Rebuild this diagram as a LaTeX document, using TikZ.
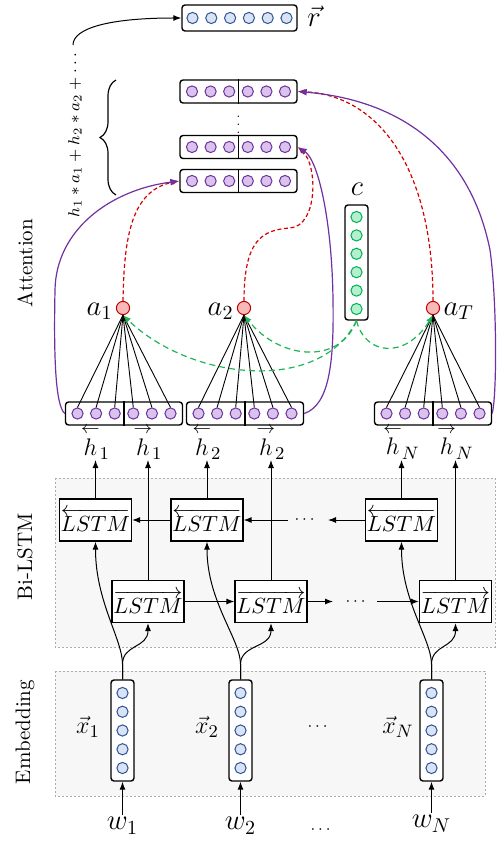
\documentclass[tikz,border=0pt]{standalone}
\usepackage{amsmath}
\usetikzlibrary{arrows.meta,decorations.pathreplacing,calc}
\definecolor{purpB}{HTML}{7030A0}
\definecolor{purpF}{HTML}{D9C3EC}
\definecolor{blueB}{HTML}{2F5597}
\definecolor{blueF}{HTML}{DAE3F3}
\definecolor{grnB}{HTML}{00B050}
\definecolor{grnF}{HTML}{B4F0CF}
\definecolor{redB}{HTML}{C00000}
\definecolor{redF}{HTML}{F8B9B9}
\definecolor{grnL}{HTML}{1FB552}
\definecolor{redL}{HTML}{D40000}
\definecolor{bgF}{HTML}{F7F7F7}
\newcommand{\hleftvec}{\overset{\leftarrow}{h}}
\newcommand{\hrightvec}{\overset{\rightarrow}{h}}
\begin{document}
\begin{tikzpicture}[x=0.5pt,y=0.5pt,
  vbox/.style={draw, line width=0.7pt, rounded corners=1.5pt, fill=white, inner sep=0pt},
  pcir/.style={circle, draw=purpB, fill=purpF, line width=0.5pt, minimum size=5.6pt, inner sep=0pt},
  bcir/.style={circle, draw=blueB, fill=blueF, line width=0.5pt, minimum size=5.6pt, inner sep=0pt},
  gcir/.style={circle, draw=grnB, fill=grnF, line width=0.5pt, minimum size=5.6pt, inner sep=0pt},
  rcir/.style={circle, draw=redB, fill=redF, line width=0.5pt, minimum size=6.6pt, inner sep=0pt},
  lstm/.style={draw, line width=0.6pt, fill=white, minimum width=36pt, minimum height=21pt, inner sep=0pt, font=\fontsize{11}{13}\selectfont},
  bgbox/.style={draw=gray!65, dash pattern=on 1.2pt off 0.8pt, fill=bgF, line width=0.4pt},
  sec/.style={rotate=90, font=\fontsize{10.5}{12}\selectfont},
  lab/.style={font=\fontsize{12.5}{14}\selectfont, inner sep=1pt},
  hlab/.style={font=\fontsize{12.5}{14}\selectfont, inner sep=0.3pt},
  biglab/.style={font=\fontsize{14}{16}\selectfont, inner sep=1pt},
  dotsl/.style={font=\fontsize{8}{9}\selectfont, inner sep=0pt},
  arr/.style={-{Latex[length=4pt,width=3pt]}, line width=0.5pt},
  fan/.style={line width=0.45pt},
  gdash/.style={grnL, line width=0.6pt, dash pattern=on 3pt off 2pt, -{Latex[length=4pt,width=3pt]}},
  rdash/.style={redL, line width=0.6pt, dash pattern=on 2pt off 1.3pt, -{Latex[length=3.5pt,width=2.6pt]}},
  parr/.style={purpB, line width=0.6pt, -{Latex[length=4.5pt,width=3.5pt]}},
]
\useasboundingbox (0,0) rectangle (497,-850);

% backgrounds
\draw[bgbox] (55,-478) rectangle (495,-647);
\draw[bgbox] (55,-671) rectangle (485,-796);

\node[sec] (tAtt) at (25,-263) {Attention};
\node[sec] (tBi) at (25,-557) {Bi-LSTM};
\node[sec] (tEmb) at (25,-732) {Embedding};

% r vector
\node[vbox, minimum width=57.5pt, minimum height=13pt] (rbox) at (239.5,-18) {};
\foreach \i in {1,...,6} \node[bcir] (r-\i) at ({239.5+(\i-3.5)*18.8},-18) {};
\node[biglab] (rlab) at (314,-16) {$\vec{r}$};

% purple h-vectors
\foreach \n/\cx/\cy in {s1/238.5/91.5, s2/238.5/147, s3/238.5/181, h1/124/413.5, h2/245/413.5, hN/433/413.5}{
  \node[vbox, minimum width=58.5pt, minimum height=11.5pt] (\n) at (\cx,-\cy) {};
  \draw[line width=0.6pt] (\n.north) -- (\n.south);
  \foreach \i in {1,...,6} \node[pcir] (\n-\i) at ({\cx+(\i-3.5)*18.6},-\cy) {};
}
\node[font=\fontsize{6}{7}\selectfont, inner sep=0pt] (vd) at (238.5,-119) {$\vdots$};

% context vector c
\node[vbox, minimum width=11.5pt, minimum height=57.5pt] (cbox) at (356.5,-262.5) {};
\foreach \i in {1,...,6} \node[gcir] (c-\i) at (356.5,{-217-(\i-1)*18.4}) {};
\node[font=\fontsize{15}{17}\selectfont, inner sep=1pt] (clab) at (357,-189) {$c$};

% attention weights
\node[rcir] (a1) at (123,-308) {};
\node[rcir] (a2) at (244,-308) {};
\node[rcir] (aT) at (433,-308) {};
\node[biglab, anchor=base east] (a1l) at ($(a1.west)+(-1,-7)$) {$a_1$};
\node[biglab, anchor=base east] (a2l) at ($(a2.west)+(-1,-7)$) {$a_2$};
\node[biglab, anchor=base west] (aTl) at ($(aT.east)+(1,-7)$) {$a_T$};

\foreach \n/\a in {h1/a1,h2/a2,hN/aT}
  \foreach \i in {1,...,6} \draw[fan] (\n-\i.north) -- (\a.south);

% green dashed
\draw[gdash] (cbox.south) .. controls (320,-395) and (190,-380) .. (a1.south);
\draw[gdash] (cbox.south) .. controls (340,-365) and (280,-360) .. (a2.south);
\draw[gdash] (cbox.south) .. controls (365,-355) and (405,-360) .. (aT.south);

% red dashed
\draw[rdash] (a1.north) .. controls (124,-235) and (132,-190) .. (s3.west);
\draw[rdash] (a2.north) .. controls (244,-240) and (262,-230) .. (290,-228) .. controls (318,-226) and (318,-165) .. (s2.east);
\draw[rdash] (aT.north) .. controls (433,-170) and (380,-95) .. (s1.east);

% purple solid
\draw[parr] (h1.west) .. controls (54,-405) and (54,-340) .. (55,-290) .. controls (56,-230) and (110,-190) .. (s3.west);
\draw[parr] (h2.east) .. controls (330,-405) and (334,-360) .. (333,-300) .. controls (332,-220) and (318,-160) .. (s2.east);
\draw[parr] (hN.east) .. controls (497,-395) and (497,-300) .. (490,-250) .. controls (470,-150) and (400,-100) .. (s1.east);

% formula and brace
\node[rotate=90, font=\fontsize{8.5}{10}\selectfont, inner sep=0pt] (form) at (75,-134) {$h_1*a_1+h_2*a_2+\cdots$};
\coordinate (fst) at (73,-45);
\draw[arr] (fst) .. controls (73,-28) and (110,-18) .. (rbox.west);
\draw[decorate, decoration={brace, amplitude=8pt}, line width=0.6pt] (116,-195) -- (116,-80);

% Bi-LSTM
\node[lstm] (bl1) at (95.5,-520) {$\overleftarrow{LSTM}$};
\node[lstm] (bl2) at (207,-520) {$\overleftarrow{LSTM}$};
\node[lstm] (bl3) at (401.5,-520) {$\overleftarrow{LSTM}$};
\node[lstm] (fl1) at (148,-601.5) {$\overrightarrow{LSTM}$};
\node[lstm] (fl2) at (271,-601.5) {$\overrightarrow{LSTM}$};
\node[lstm] (fl3) at (455.5,-601.5) {$\overrightarrow{LSTM}$};

\draw[arr] (bl2.west) -- (bl1.east);
\coordinate (bd1) at (288,-520);
\draw[arr] (bd1) -- (bl2.east);
\node[dotsl] (bdots) at (306,-520) {$\cdots$};
\coordinate (bd2) at (328,-520);
\draw[arr] (bl3.west) -- (bd2);

\draw[arr] (fl1.east) -- (fl2.west);
\coordinate (fd1) at (333,-601.5);
\draw[arr] (fl2.east) -- (fd1);
\node[dotsl] (fdots) at (357,-601.5) {$\cdots$};
\coordinate (fd2) at (377,-601.5);
\draw[arr] (fd2) -- (fl3.west);

% h labels
\node[hlab, anchor=south] (hl1) at (95.5,-460) {$\hleftvec_1$};
\node[hlab, anchor=south] (hr1) at (148,-460) {$\hrightvec_1$};
\node[hlab, anchor=south] (hl2) at (207,-460) {$\hleftvec_2$};
\node[hlab, anchor=south] (hr2) at (271,-460) {$\hrightvec_2$};
\node[hlab, anchor=south] (hlN) at (401.5,-460) {$\hleftvec_N$};
\node[hlab, anchor=south] (hrN) at (455.5,-460) {$\hrightvec_N$};
\draw[arr] (bl1.north) -- (hl1.south);
\draw[arr] (fl1.north) -- (hr1.south);
\draw[arr] (bl2.north) -- (hl2.south);
\draw[arr] (fl2.north) -- (hr2.south);
\draw[arr] (bl3.north) -- (hlN.south);
\draw[arr] (fl3.north) -- (hrN.south);

% Embedding
\foreach \n/\cx in {x1/122.5, x2/240.5, xN/431.5}{
  \node[vbox, minimum width=11.5pt, minimum height=50.5pt] (\n) at (\cx,-730.5) {};
  \foreach \i in {1,...,5} \node[bcir] (\n-\i) at (\cx,{-693-(\i-1)*18.75}) {};
}
\node[lab] (x1l) at (88,-727) {$\vec{x}_1$};
\node[lab] (x2l) at (207,-727) {$\vec{x}_2$};
\node[lab] (xNl) at (398,-727) {$\vec{x}_N$};
\node[dotsl] (edots) at (319,-727) {$\cdots$};

\node[biglab, anchor=north] (w1) at (122.5,-815) {$w_1$};
\node[biglab, anchor=north] (w2) at (240.5,-815) {$w_2$};
\node[biglab, anchor=north] (wN) at (431.5,-813) {$w_N$};
\node[dotsl] (wdots) at (322,-830) {$\cdots$};
\draw[arr] (w1.north) -- (x1.south);
\draw[arr] (w2.north) -- (x2.south);
\draw[arr] (wN.north) -- (xN.south);

\foreach \x/\b/\f in {x1/bl1/fl1, x2/bl2/fl2, xN/bl3/fl3}{
  \draw[arr] (\x.north) -- ++(0,15) .. controls +(0,25) and +(0,-60) .. (\b.south);
  \draw[arr] (\x.north) -- ++(0,15) .. controls +(0,20) and +(0,-25) .. (\f.south);
}
\end{tikzpicture}
\end{document}
